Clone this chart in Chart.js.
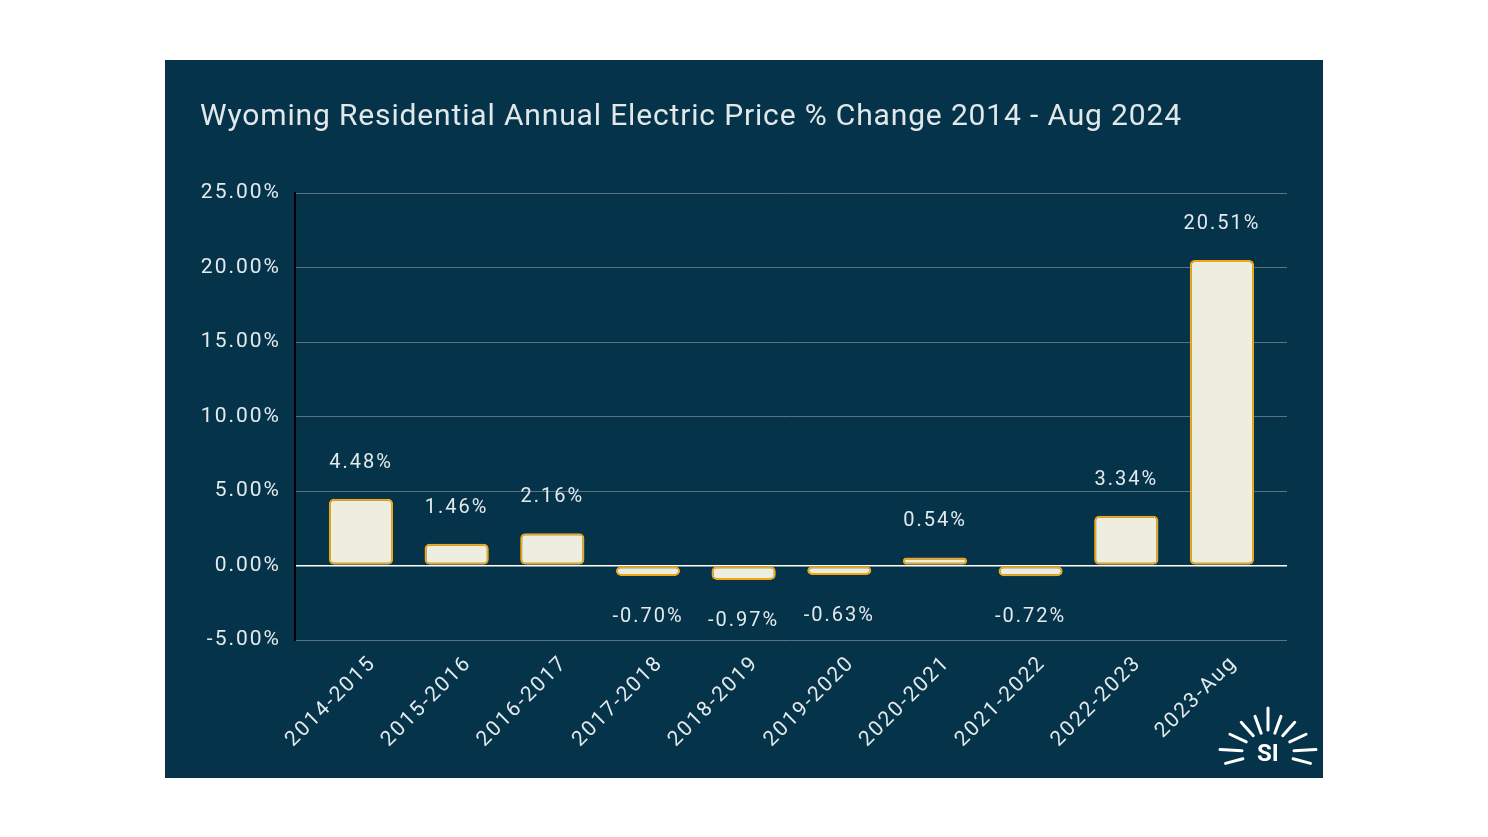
<!DOCTYPE html>
<html>
<head>
<meta charset="utf-8">
<script src="https://cdn.jsdelivr.net/npm/chart.js@4.4.1/dist/chart.umd.min.js"></script>
<style>
  html, body { margin: 0; background: #fff; }
  #panel { position: absolute; left: 165px; top: 60px; width: 1158px; height: 718px; background: #05344a; }
  #chart { position: absolute; left: 0; top: 0; }
  #title { position: absolute; left: 35px; top: 37px; font: 30px/36px Roboto, sans-serif;
           letter-spacing: 0.85px; color: #e2e8ea; white-space: nowrap; }
  #logo { position: absolute; left: 1053px; top: 640px; }
</style>
</head>
<body>
<div id="panel">
  <canvas id="chart" width="1158" height="718"></canvas>
  <div id="title">Wyoming Residential Annual Electric Price % Change 2014 - Aug 2024</div>
  <svg id="logo" width="100" height="80" viewBox="0 0 100 80"></svg>
</div>
<script>
  // Chart data
  const periods = ["2014-2015", "2015-2016", "2016-2017", "2017-2018", "2018-2019",
                   "2019-2020", "2020-2021", "2021-2022", "2022-2023", "2023-Aug"];
  const changes = [4.48, 1.46, 2.16, -0.70, -0.97, -0.63, 0.54, -0.72, 3.34, 20.51];
  const yTicks = [-5, 0, 5, 10, 15, 20, 25];

  const textColor = "#e4eaec";

  // Value labels above / below each bar
  const valueLabels = {
    id: "valueLabels",
    afterDatasetsDraw(chart) {
      const ctx = chart.ctx;
      const meta = chart.getDatasetMeta(0);
      ctx.save();
      ctx.font = "20px Roboto";
      ctx.fillStyle = textColor;
      ctx.textAlign = "center";
      ctx.textBaseline = "middle";
      meta.data.forEach((bar, i) => {
        const v = changes[i];
        const y = v >= 0 ? bar.y - 36 : bar.y + 41;
        ctx.fillText(v.toFixed(2) + "%", bar.x, y);
      });
      ctx.restore();
    }
  };

  // the exported chart text is a bit wider than plain Roboto
  const spacing = {
    id: "spacing",
    beforeDraw(chart) {
      chart.ctx.letterSpacing = "2px";
    }
  };

  new Chart(document.getElementById("chart"), {
    type: "bar",
    data: {
      datasets: [{
        data: changes.map((v, i) => ({ x: i, y: v })),
        backgroundColor: "#eeeee0",
        borderColor: "#f3a60d",
        borderWidth: 2,
        borderRadius: 5,
        borderSkipped: false,
        barPercentage: 0.84,
        categoryPercentage: 0.8
      }]
    },
    options: {
      responsive: false,
      animation: false,
      layout: { padding: { left: 35, right: 36, top: 133, bottom: 0 } },
      plugins: {
        legend: { display: false },
        tooltip: { enabled: false }
      },
      scales: {
        x: {
          type: "linear",
          offset: false,
          min: -0.69,
          max: 9.68,
          grid: { display: false },
          border: { display: false },
          afterBuildTicks: (scale) => { scale.ticks = periods.map((p, i) => ({ value: i })); },
          afterFit: (scale) => { scale.height = 138; },
          ticks: {
            autoSkip: false,
            maxRotation: 45,
            minRotation: 45,
            labelOffset: 12,
            color: textColor,
            font: { family: "Roboto", size: 21 },
            callback: (v) => periods[v]
          }
        },
        y: {
          min: -5,
          max: 25,
          afterBuildTicks: (scale) => { scale.ticks = yTicks.map(v => ({ value: v })); },
          afterFit: (scale) => { scale.width = 95; },
          border: { display: true, color: "#000", width: 2 },
          grid: {
            drawTicks: false,
            color: (c) => c.tick && c.tick.value === 0 ? "#ffffff" : "#58747f",
            lineWidth: (c) => c.tick && c.tick.value === 0 ? 1.5 : 1
          },
          ticks: {
            padding: 14,
            color: textColor,
            font: { family: "Roboto", size: 21 },
            callback: (v) => v.toFixed(2) + "%"
          }
        }
      }
    },
    plugins: [spacing, valueLabels]
  });

  // SI logo: rays around the letters
  const svg = document.getElementById("logo");
  const ns = "http://www.w3.org/2000/svg";
  const rays = [[90, 22, 44], [70, 20, 38], [110, 20, 38], [48, 22, 40], [132, 22, 40],
                [25, 24, 42], [155, 24, 42], [3, 26, 48], [177, 26, 48], [-15, 26, 44], [195, 26, 44]];
  rays.forEach(([a, r0, r1]) => {
    const t = a * Math.PI / 180;
    const l = document.createElementNS(ns, "line");
    l.setAttribute("x1", 50 + r0 * Math.cos(t));
    l.setAttribute("y1", 52 - r0 * Math.sin(t));
    l.setAttribute("x2", 50 + r1 * Math.cos(t));
    l.setAttribute("y2", 52 - r1 * Math.sin(t));
    l.setAttribute("stroke", "#fff");
    l.setAttribute("stroke-width", "3");
    l.setAttribute("stroke-linecap", "round");
    svg.appendChild(l);
  });
  const txt = document.createElementNS(ns, "text");
  txt.setAttribute("x", 50);
  txt.setAttribute("y", 61);
  txt.setAttribute("text-anchor", "middle");
  txt.setAttribute("fill", "#fff");
  txt.setAttribute("font-family", "Roboto, sans-serif");
  txt.setAttribute("font-weight", "bold");
  txt.setAttribute("font-size", "24");
  txt.textContent = "SI";
  svg.appendChild(txt);
</script>
</body>
</html>
